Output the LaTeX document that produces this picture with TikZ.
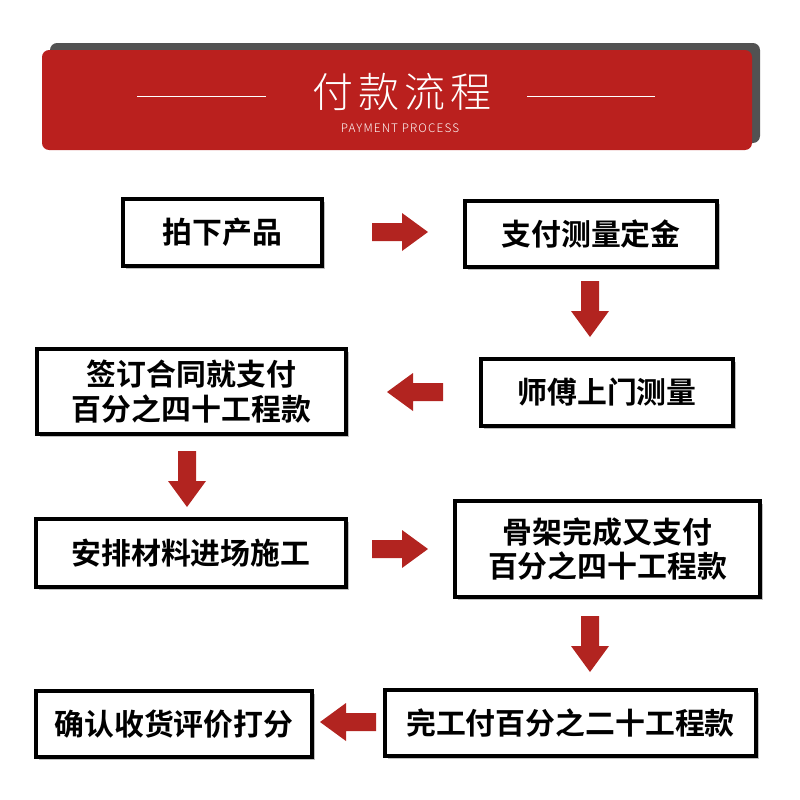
\documentclass[tikz,border=0pt]{standalone}
\usepackage{fontspec}
\setmainfont{Noto Sans CJK SC}[BoldFont={Noto Sans CJK SC Bold}]
\newfontfamily\light{Noto Sans CJK SC Light}[LetterSpace=10]
\newfontfamily\ttl{Noto Sans CJK SC Light}[LetterSpace=12]
\definecolor{hred}{RGB}{186,32,30}
\definecolor{ared}{RGB}{178,36,32}
\begin{document}
\begin{tikzpicture}[x=0.03cm,y=-0.03cm]
\useasboundingbox (0,0) rectangle (800,800);
\fill[black!68, rounded corners=6pt] (50,43) rectangle (760,143);
\fill[hred, rounded corners=6pt] (42,50) rectangle (752,150);
\node[white,font=\ttl\fontsize{35}{38}\selectfont] (title) at (402,92) {付款流程};
\node[white,font=\light\fontsize{10}{11}\selectfont] (sub) at (400,128) {PAYMENT PROCESS};
\draw[white,line width=0.8pt] (137,96) -- (266,96);
\draw[white,line width=0.8pt] (527,96) -- (655,96);
\newcommand\bx[6]{\fill[black!25] (#2+3,#3+3) rectangle (#4+3,#5+3);
  \draw[line width=2.6pt,fill=white] (#2,#3) rectangle (#4,#5);
  \node[font=\fontsize{25.5}{29.5}\selectfont\bfseries,align=center] (#1) at ({(#2+#4)/2},{(#3+#5)/2}) {#6};}
\bx{b1}{123}{199}{322}{266}{拍下产品}
\bx{b2}{465}{201}{717}{267}{支付测量定金}
\bx{b3}{481}{359}{733}{426}{师傅上门测量}
\bx{b4}{37}{349}{346}{434}{签订合同就支付\\百分之四十工程款}
\bx{b5}{36}{519}{346}{587}{安排材料进场施工}
\bx{b6}{455}{501}{760}{597}{骨架完成又支付\\百分之四十工程款}
\bx{b7}{385}{690}{756}{756}{完工付百分之二十工程款}
\bx{b8}{36}{691}{312}{757}{确认收货评价打分}
\newcommand\ar[3]{\fill[ared, rotate around={#3:(#1,#2)}] (#1,#2) ++(-28,-9) -- ++(30,0) -- ++(0,-10) -- ++(26,19) -- ++(-26,19) -- ++(0,-10) -- ++(-30,0) -- cycle;}
\ar{400}{232}{0}
\ar{590}{309}{-90}
\ar{415}{392}{180}
\ar{187}{479}{-90}
\ar{400}{549}{0}
\ar{590}{644}{-90}
\ar{348}{722}{180}
\end{tikzpicture}
\end{document}
